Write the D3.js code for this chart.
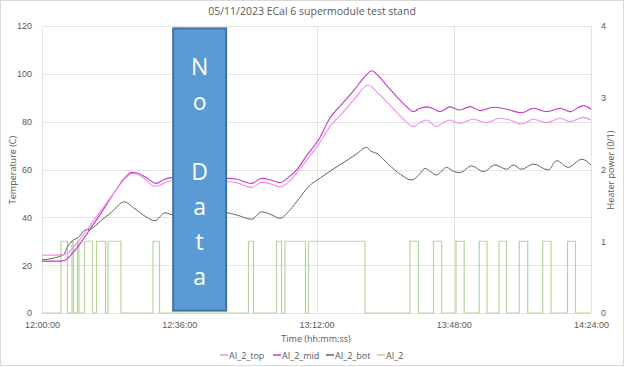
<!DOCTYPE html>
<html>
<head>
<meta charset="utf-8">
<script src="https://cdn.jsdelivr.net/npm/d3@7"></script>
<style>
  body { margin: 0; background: #fff; }
  svg { font-family: "Open Sans", "Liberation Sans", sans-serif; }
  .tick text { fill: #595959; font-size: 9px; }
</style>
</head>
<body>
<svg id="chart" width="624" height="367"></svg>
<script>
// ── Data (time in minutes after 12:00:00, temperatures in C) ────────────────
const topT = [0, 5.5, 8, 10, 13, 16, 19, 22, 23.5, 25, 27, 29.5, 31, 33, 34.5,
  48.3, 51, 55, 57.6, 60, 62.4, 64.5, 66.8, 69, 72.5, 75.5, 79, 82, 85.6, 87.5, 90, 93, 95.5, 97.4,
  99, 100.9, 102, 103.5, 105, 107, 109.6, 113.1, 116.6, 120.1, 122.8, 125.8, 128.9, 132.4, 135.9, 138.5, 142, 144];
const topV = [24.2, 24.3, 27, 31, 37.5, 44, 50.5, 56.5, 58.3, 58, 56, 53, 53.5, 55, 55.3,
  54.9, 54.5, 52.5, 54.6, 54, 52.8, 54.5, 58.5, 63, 70.5, 77.9, 84, 89.5, 95.3, 93, 89, 84, 80, 77.9,
  79.5, 80.7, 79.5, 77.9, 79.5, 80.7, 79.3, 81.0, 79.6, 81.4, 80.7, 79.0, 81.0, 79.6, 81.4, 80.0, 81.8, 80.7];

const midT = [0, 5.5, 8, 10, 13, 16, 19, 22, 23.5, 25, 27, 30, 32, 34.5,
  48.3, 51, 55, 57.6, 60, 62.4, 64.5, 66.8, 69.5, 72.5, 75.5, 79, 82, 84.5, 86.5, 88, 90.5, 93, 95.5, 97.4,
  99, 100.9, 102.5, 104.4, 107, 109.6, 112.3, 114.9, 118.4, 121.9, 125.8, 128.9, 132.4, 135.9, 138.5, 142, 144];
const midV = [21.7, 21.8, 25, 29, 36, 43, 50.5, 57, 58.8, 58.5, 57, 54.2, 55.8, 56.7,
  56.3, 56, 54.2, 56.3, 55.6, 54.5, 56.5, 59.8, 66, 72.3, 81.4, 88, 93.5, 98.5, 101.3, 99.5, 95, 90.5, 86.5, 84.2,
  85.5, 86.2, 85.5, 84.2, 86.2, 84.9, 86.3, 84.6, 86.0, 85.2, 83.7, 85.6, 84.2, 85.6, 84.2, 86.7, 85.2];

const botT = [0, 5.5, 7, 8.2, 9.5, 11.3, 12.6, 15.7, 18.3, 21.6, 24, 27, 29.6, 32.3, 34.4,
  48.3, 51, 55, 57.6, 60, 62.4, 65, 67.5, 69.9, 73, 76, 79.5, 82.5, 85.2, 86, 88, 91, 94, 97,
  99, 100.5, 102, 103.5, 106.1, 108, 109.6, 112.7, 115.8, 118.8, 121.9, 123.6, 125.8, 128.9, 132.8, 135, 138, 141.6, 144];
const botV = [22.2, 24.2, 28.5, 30.5, 31.5, 34.7, 35, 38.9, 42.3, 46.5, 44, 40.5, 38.6, 41.9, 41,
  41.9, 41, 39.2, 42.3, 41.2, 39.6, 43, 48, 52.8, 56.5, 59.8, 63.3, 66.5, 69.3, 68, 66.5, 62, 58, 55.6,
  58, 60.5, 59, 57.7, 60.9, 59.2, 58.7, 61.5, 59.1, 61.9, 60.1, 61.9, 60.1, 62.3, 59.8, 63.7, 60.9, 64.3, 61.9];

// heater AI_2 on-intervals [start, end] in minutes
const heaterOn = [[4.98, 6.69], [7.87, 8.26], [9.31, 9.70], [11.15, 13.25], [14.30, 16.66], [17.31, 20.72],
  [29.11, 30.82], [54.16, 55.48], [61.51, 62.82], [63.74, 69.11], [69.90, 84.72],
  [96.52, 98.70], [102.69, 104.84], [108.59, 110.74], [114.70, 116.72], [119.87, 121.84],
  [125.19, 127.40], [131.33, 133.51], [137.84, 139.93]];

const noDataRange = [34.4, 48.3];
const xTicks = [0, 36, 72, 108, 144];
const xTickLabels = ['12:00:00', '12:36:00', '13:12:00', '13:48:00', '14:24:00'];
const yLeftTicks = [0, 20, 40, 60, 80, 100, 120];
const yRightTicks = [0, 1, 2, 3, 4];

const seriesNames = ['AI_2_top', 'AI_2_mid', 'AI_2_bot', 'AI_2'];
const seriesColors = ['#EE8CEE', '#C23BC2', '#5C6B48', '#B4D69E'];

// ── Chart ───────────────────────────────────────────────────────────────────
const svg = d3.select('#chart');
const W = 624, H = 367;

svg.append('rect').attr('x', 0.5).attr('y', 0.5).attr('width', W - 1).attr('height', H - 2)
  .attr('fill', '#fff').attr('stroke', '#D9D9D9');

const x = d3.scaleLinear().domain([0, 144]).range([42, 591]);
const yL = d3.scaleLinear().domain([0, 120]).range([313, 26]);
const yR = d3.scaleLinear().domain([0, 4]).range([313, 26]);

// gridlines
svg.append('g').selectAll('line').data(yLeftTicks).join('line')
  .attr('x1', x(0)).attr('x2', x(144))
  .attr('y1', d => Math.round(yL(d)) + 0.5).attr('y2', d => Math.round(yL(d)) + 0.5)
  .attr('stroke', '#E3E3E3');
svg.append('g').selectAll('line').data(xTicks).join('line')
  .attr('x1', d => Math.round(x(d)) + 0.5).attr('x2', d => Math.round(x(d)) + 0.5)
  .attr('y1', yL(120)).attr('y2', yL(0))
  .attr('stroke', '#E3E3E3');

// axes
const xAxis = svg.append('g').attr('transform', `translate(0,${yL(0) + 4})`)
  .call(d3.axisBottom(x).tickValues(xTicks).tickFormat((d, i) => xTickLabels[i]).tickSize(0).tickPadding(5));
const yAxisL = svg.append('g').attr('transform', `translate(${x(0) - 8},0)`)
  .call(d3.axisLeft(yL).tickValues(yLeftTicks).tickSize(0).tickPadding(2));
const yAxisR = svg.append('g').attr('transform', `translate(${x(144) + 8},0)`)
  .call(d3.axisRight(yR).tickValues(yRightTicks).tickFormat(d3.format('d')).tickSize(0).tickPadding(2));
[xAxis, yAxisL, yAxisR].forEach(a => a.select('.domain').remove());

// series
const lineT = d3.line().x(d => x(d[0])).y(d => yL(d[1])).curve(d3.curveMonotoneX);
const zip = (a, b) => a.map((t, i) => [t, b[i]]);

const heaterPts = [[0, 0]];
heaterOn.forEach(([s, e]) => { heaterPts.push([s, 0], [s, 1], [e, 1], [e, 0]); });
heaterPts.push([144, 0]);
const lineH = d3.line().x(d => x(d[0])).y(d => yR(d[1]));

svg.append('path').datum(heaterPts).attr('d', lineH)
  .attr('fill', 'none').attr('stroke', seriesColors[3]).attr('stroke-width', 1.2);
svg.append('path').datum(zip(botT, botV)).attr('d', lineT)
  .attr('fill', 'none').attr('stroke', seriesColors[2]).attr('stroke-width', 1);
svg.append('path').datum(zip(midT, midV)).attr('d', lineT)
  .attr('fill', 'none').attr('stroke', seriesColors[1]).attr('stroke-width', 1.1);
svg.append('path').datum(zip(topT, topV)).attr('d', lineT)
  .attr('fill', 'none').attr('stroke', seriesColors[0]).attr('stroke-width', 1.1);

// "No Data" box
svg.append('rect')
  .attr('x', x(noDataRange[0])).attr('width', x(noDataRange[1]) - x(noDataRange[0]))
  .attr('y', yL(119)).attr('height', yL(1) - yL(119))
  .attr('fill', '#5B9BD5').attr('stroke', '#41719C').attr('stroke-width', 2);
const letters = ['N', 'o', '', 'D', 'a', 't', 'a'];
svg.append('g').selectAll('text').data(letters).join('text')
  .attr('x', (x(noDataRange[0]) + x(noDataRange[1])) / 2)
  .attr('y', (d, i) => 75 + i * 35)
  .attr('text-anchor', 'middle').attr('fill', '#fff')
  .attr('font-size', 23)
  .text(d => d);

// titles
svg.append('text').attr('x', 312).attr('y', 15).attr('text-anchor', 'middle')
  .attr('fill', '#595959').attr('font-size', 10.5)
  .text('05/11/2023 ECal 6 supermodule test stand');
svg.append('text').attr('x', 316).attr('y', 342).attr('text-anchor', 'middle')
  .attr('fill', '#595959').attr('font-size', 9)
  .text('Time (hh:mm:ss)');
svg.append('text').attr('transform', 'translate(16,170) rotate(-90)').attr('text-anchor', 'middle')
  .attr('fill', '#595959').attr('font-size', 9)
  .text('Temperature (C)');
svg.append('text').attr('transform', 'translate(614,170) rotate(-90)').attr('text-anchor', 'middle')
  .attr('fill', '#595959').attr('font-size', 9)
  .text('Heater power (0/1)');

// legend
const legendX = [220, 273, 326, 377];
const lg = svg.append('g').selectAll('g').data(seriesNames).join('g')
  .attr('transform', (d, i) => `translate(${legendX[i]},355)`);
lg.append('line').attr('x1', 0).attr('x2', 8).attr('y1', 0).attr('y2', 0)
  .attr('stroke', (d, i) => seriesColors[i]).attr('stroke-width', 1.5);
lg.append('text').attr('x', 9).attr('y', 3.5).attr('fill', '#595959').attr('font-size', 9)
  .text(d => d);
</script>
</body>
</html>
